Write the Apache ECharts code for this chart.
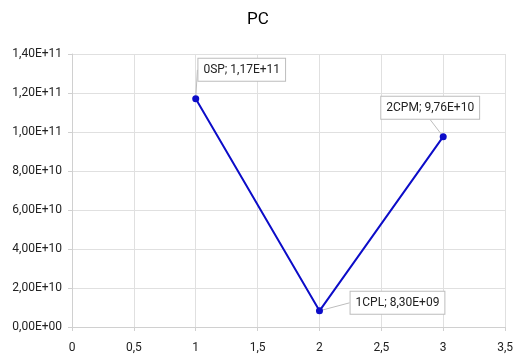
<!DOCTYPE html>
<html lang="en">
<head>
    <meta charset="UTF-8">
    <title>PC</title>
    <script src="https://cdn.jsdelivr.net/npm/echarts@6/dist/echarts.min.js"></script>
    <style>
        html, body { margin: 0; padding: 0; background: #fff; }
        #chart { width: 516px; height: 357px; }
    </style>
</head>
<body>
<div id="chart"></div>
<script>
    var pointNames = ['0SP', '1CPL', '2CPM'];
    var xValues = [1, 2, 3];
    var yValues = [1.17e11, 8.30e9, 9.76e10];
    // label box offsets relative to the point (dx, dy)
    var labelShift = [[46, -29], [78, -8], [-13, -29]];

    function sci(v) {
        var s = v.toExponential(2).split('e');
        var exp = parseInt(s[1], 10);
        var sign = exp < 0 ? '-' : '+';
        var e = Math.abs(exp);
        return s[0].replace('.', ',') + 'E' + sign + (e < 10 ? '0' + e : e);
    }

    var seriesData = [];
    for (var i = 0; i < xValues.length; i++) {
        seriesData.push({ name: pointNames[i], value: [xValues[i], yValues[i]] });
    }

    var font = 'Roboto';
    var chart = echarts.init(document.getElementById('chart'));
    chart.setOption({
        animation: false,
        title: {
            text: 'PC',
            left: 'center',
            top: 6,
            textStyle: { fontFamily: font, fontWeight: 'normal', fontSize: 17, color: '#000' }
        },
        grid: { left: 72, right: 10, top: 54, bottom: 30 },
        xAxis: {
            type: 'value',
            min: 0,
            max: 3.5,
            interval: 0.5,
            axisLine: { show: true, lineStyle: { color: '#d0d0d0' } },
            axisTick: { show: true, length: 4, lineStyle: { color: '#d0d0d0' } },
            splitLine: { show: true, lineStyle: { color: '#e0e0e0' } },
            axisLabel: {
                fontFamily: font, fontSize: 12, color: '#222', margin: 15,
                formatter: function (v) { return String(v).replace('.', ','); }
            }
        },
        yAxis: {
            type: 'value',
            min: 0,
            max: 1.4e11,
            interval: 2e10,
            axisLine: { show: true, lineStyle: { color: '#d0d0d0' } },
            axisTick: { show: true, length: 4, lineStyle: { color: '#d0d0d0' } },
            splitLine: { show: true, lineStyle: { color: '#e0e0e0' } },
            axisLabel: {
                fontFamily: font, fontSize: 12, color: '#222', margin: 10,
                formatter: function (v) { return sci(v); }
            }
        },
        series: [{
            type: 'line',
            data: seriesData,
            symbol: 'circle',
            symbolSize: 7,
            lineStyle: { color: '#0c0cc8', width: 2 },
            itemStyle: { color: '#0c0cc8' },
            label: {
                show: true,
                position: 'inside',
                fontFamily: font,
                fontSize: 12,
                color: '#222',
                backgroundColor: '#fff',
                borderColor: '#bdbdbd',
                borderWidth: 1,
                padding: [5, 5],
                formatter: function (p) { return p.name + '; ' + sci(p.value[1]); }
            },
            labelLine: { show: true, lineStyle: { color: '#bdbdbd', width: 1 } },
            labelLayout: function (params) {
                var s = labelShift[params.dataIndex];
                return { dx: s[0], dy: s[1] };
            }
        }]
    });
</script>
</body>
</html>
